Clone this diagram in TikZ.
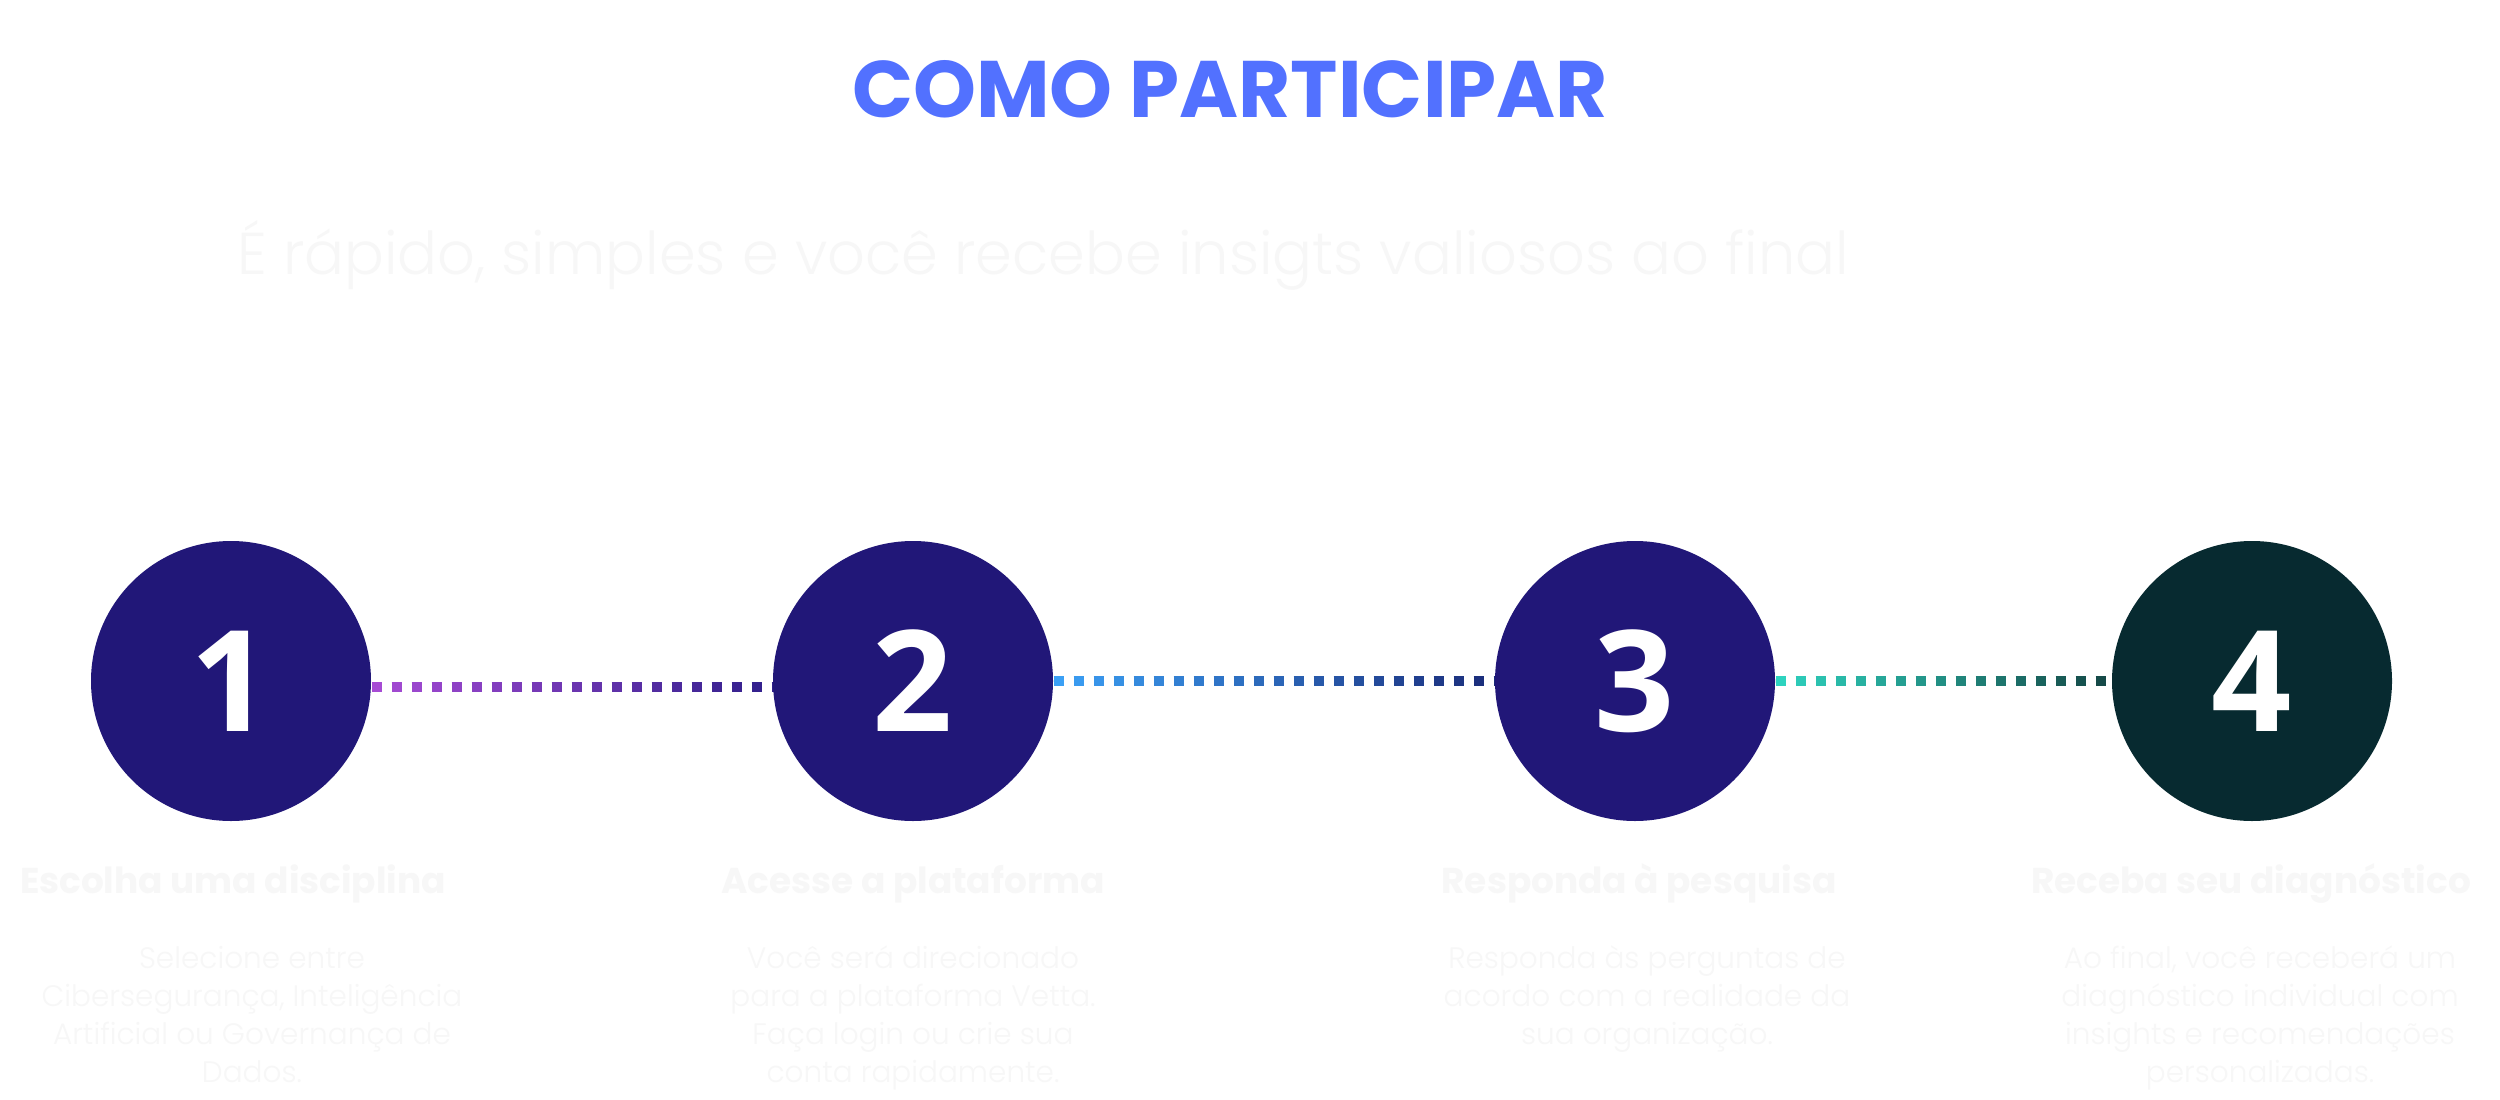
\documentclass[tikz,border=0pt]{standalone}
\usepackage{fontspec}
\setmainfont{Poppins}
\newfontfamily\poplight{Poppins Light}
\newfontfamily\opensans{Open Sans}
\usepackage{xcolor}
\usepackage{tikz}
\usetikzlibrary{calc,backgrounds}
\definecolor{titleblue}{RGB}{82,113,255}
\definecolor{indigo}{RGB}{33,23,120}
\definecolor{deepteal}{RGB}{7,42,48}
\definecolor{softwhite}{RGB}{247,247,247}
\definecolor{violetA}{RGB}{166,75,212}
\definecolor{violetB}{RGB}{46,31,138}
\definecolor{skyA}{RGB}{59,160,245}
\definecolor{skyB}{RGB}{26,42,120}
\definecolor{mintA}{RGB}{46,211,191}
\definecolor{mintB}{RGB}{21,74,72}
\tikzset{
  stepdisc/.style={circle, fill=indigo, minimum size=28mm, inner sep=0pt,
                   text=white, font=\opensans\bfseries\fontsize{40}{40}\selectfont},
  stepdisclast/.style={stepdisc, fill=deepteal},
  steptitle/.style={anchor=base, inner sep=0pt, text=softwhite,
                    font=\bfseries\fontsize{10.2}{13}\selectfont},
  stepnote/.style={anchor=base, inner sep=0pt, align=center, text=softwhite,
                   font=\poplight\fontsize{8.4}{10.8}\selectfont},
  dotseg/.style={line width=1mm},
}
% gradient dotted link: from, to, colour A, colour B, last index, yshift
\newcommand{\dotlink}[6]{%
  \foreach \i in {0,...,#5}{%
    \pgfmathtruncatemacro{\mixpct}{100-100*\i/#5}
    \draw[dotseg, #3!\mixpct!#4] ($(#1.east)!{\i*2mm}!(#2.west)+(0,#6)$) -- ++(1mm,0);
  }}

\begin{document}
\begin{tikzpicture}
  \useasboundingbox (0,0) rectangle (25,-11);

  % ---- heading ----
  \node[text=titleblue, font=\bfseries\fontsize{22.8}{26}\selectfont] (title) at (12.30,-0.89) {COMO PARTICIPAR};
  \node[text=softwhite, font=\poplight\fontsize{16.8}{20}\selectfont] (subtitle) at (10.43,-2.55) {É rápido, simples e você recebe insigts valiosos ao final};

  % ---- steps ----
  \node[stepdisc] (one) at (2.31,-6.81) {1};
  \node[stepdisc] (two) at (9.13,-6.81) {2};
  \node[stepdisc] (three) at (16.35,-6.81) {3};
  \node[stepdisclast] (four) at (22.52,-6.81) {4};

  \node[steptitle] (onetitle) at (2.33,-8.93) {Escolha uma disciplina};
  \node[steptitle] (twotitle) at (9.13,-8.93) {Acesse a plataforma};
  \node[steptitle] (threetitle) at (16.39,-8.93) {Responda à pesquisa};
  \node[steptitle] (fourtitle) at (22.51,-8.93) {Receba seu diagnóstico};

  % base sits on the last line
  \node[stepnote] (onenote) at (2.52,-10.82) {Selecione entre\\Cibersegurança, Inteligência\\Artificial ou Governança de\\Dados.};
  \node[stepnote] (twonote) at (9.13,-10.82) {Você será direcionado\\para a plataforma Vetta.\\Faça login ou crie sua\\conta rapidamente.};
  \node[stepnote] (threenote) at (16.47,-10.44) {Responda às perguntas de\\acordo com a realidade da\\sua organização.};
  \node[stepnote] (fournote) at (22.60,-10.82) {Ao final, você receberá um\\diagnóstico individual com\\insights e recomendações\\personalizadas.};

  % ---- links ----
  \begin{scope}[on background layer]
    \fill[white] (0,0) rectangle (25,-11);
    \dotlink{one}{two}{violetA}{violetB}{20}{-0.06}
    \dotlink{two}{three}{skyA}{skyB}{22}{0}
    \dotlink{three}{four}{mintA}{mintB}{16}{0}
  \end{scope}
\end{tikzpicture}
\end{document}
